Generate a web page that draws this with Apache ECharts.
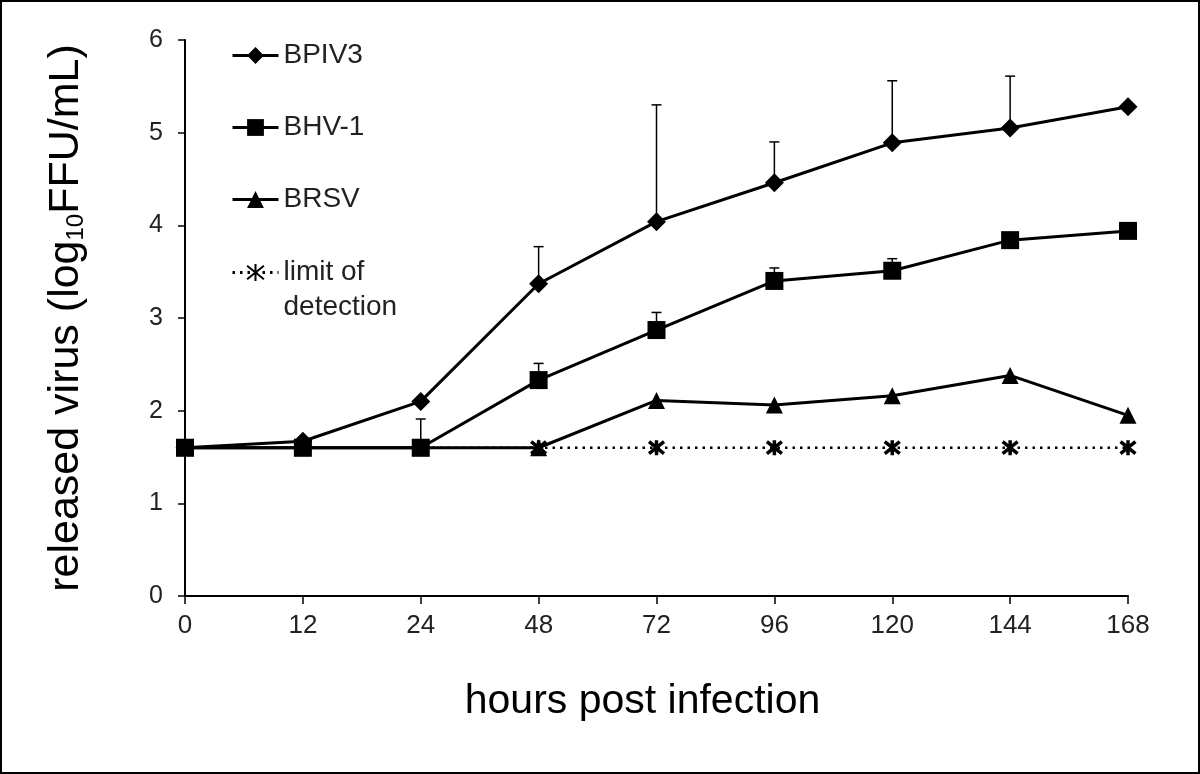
<!DOCTYPE html>
<html>
<head>
<meta charset="utf-8">
<script src="https://cdn.jsdelivr.net/npm/echarts@6/dist/echarts.min.js"></script>
<style>
  html, body { margin: 0; padding: 0; background: #fff; }
  #chart {
    width: 1200px;
    height: 774px;
    box-sizing: border-box;
    border: 2px solid #000;
  }
</style>
</head>
<body>
<div id="chart"></div>
<script>
const hours = ['0', '12', '24', '48', '72', '96', '120', '144', '168']
const yTicks = [0, 1, 2, 3, 4, 5, 6]

const bpiv3 = [1.6, 1.67, 2.1, 3.37, 4.04, 4.46, 4.89, 5.05, 5.28]
const bpiv3Err = [null, null, null, 0.4, 1.26, 0.44, 0.67, 0.56, null]

const bhv1 = [1.6, 1.6, 1.6, 2.33, 2.87, 3.4, 3.51, 3.84, 3.94]
const bhv1Err = [null, null, 0.31, 0.18, 0.19, 0.14, 0.13, null, null]

const brsv = [1.6, 1.6, 1.6, 1.6, 2.11, 2.06, 2.16, 2.38, 1.95]

const detectionLimit = [1.6, 1.6, 1.6, 1.6, 1.6, 1.6, 1.6, 1.6, 1.6]

const FONT = '"Liberation Sans", Arial, sans-serif'
// vertical bar + X, the horizontal arm is the dotted line itself
const asterisk = 'path://M5,0L5,10M1,1L9,9M1,9L9,1'
const LOD = 'limit of\ndetection'

// upper error bars: [index, mean, mean + sd]
const errData = (vals, errs) => vals
  .map((v, i) => (errs[i] == null ? null : [i, v, v + errs[i]]))
  .filter(d => d)

const renderErr = (params, api) => {
  const i = api.value(0)
  const p0 = api.coord([i, api.value(1)])
  const p1 = api.coord([i, api.value(2)])
  const st = { stroke: '#000', lineWidth: 1.5 }
  return {
    type: 'group',
    children: [
      { type: 'line', shape: { x1: p0[0], y1: p0[1], x2: p1[0], y2: p1[1] }, style: st },
      { type: 'line', shape: { x1: p1[0] - 5, y1: p1[1], x2: p1[0] + 5, y2: p1[1] }, style: st }
    ]
  }
}

const chart = echarts.init(document.getElementById('chart'))

const lineSeries = (name, data, symbol, size, z) => ({
  name,
  type: 'line',
  data,
  symbol,
  symbolSize: size,
  showAllSymbol: true,
  z,
  lineStyle: { color: '#000', width: 3 },
  itemStyle: { color: '#000' },
  animation: false
})

const legendBase = {
  orient: 'vertical',
  left: 224,
  itemWidth: 46,
  itemHeight: 21,
  lineStyle: { width: 3 },
  textStyle: { fontFamily: FONT, fontSize: 28, color: '#222', lineHeight: 35 }
}

const option = {
  backgroundColor: '#fff',
  animation: false,
  grid: { left: 183, right: 70, top: 38, bottom: 176 },
  legend: [
    Object.assign({}, legendBase, {
      top: 31,
      itemGap: 37,
      data: ['BPIV3', 'BHV-1', 'BRSV']
    }),
    // first line left blank so the icon sits next to "limit of"
    Object.assign({}, legendBase, {
      top: 213,
      data: [LOD],
      formatter: name => ' \n' + name
    })
  ],
  xAxis: {
    type: 'category',
    data: hours,
    boundaryGap: false,
    name: 'hours post infection',
    nameLocation: 'middle',
    nameGap: 80,
    nameTextStyle: { fontFamily: FONT, fontSize: 41, color: '#000', padding: [5, 28, 0, 0] },
    axisLine: { lineStyle: { color: '#000', width: 2 } },
    axisTick: { show: true, length: 8, alignWithLabel: true, lineStyle: { color: '#000', width: 1.5 } },
    axisLabel: { fontFamily: FONT, fontSize: 26, color: '#222', margin: 17 },
    splitLine: { show: false }
  },
  yAxis: {
    type: 'value',
    min: yTicks[0],
    max: yTicks[yTicks.length - 1],
    interval: 1,
    name: 'released virus (log{sub|10}FFU/mL)',
    nameLocation: 'middle',
    nameRotate: 90,
    nameGap: 97,
    nameTextStyle: {
      fontFamily: FONT,
      fontSize: 43,
      color: '#000',
      rich: {
        sub: { fontFamily: FONT, fontSize: 24, color: '#000', verticalAlign: 'bottom', padding: [18, 0, 0, 0] }
      }
    },
    axisLine: { show: true, lineStyle: { color: '#000', width: 2 } },
    axisTick: { show: true, length: 7, lineStyle: { color: '#000', width: 1.5 } },
    axisLabel: { fontFamily: FONT, fontSize: 25, color: '#222', margin: 22 },
    splitLine: { show: false }
  },
  series: [
    {
      name: LOD,
      type: 'line',
      data: detectionLimit,
      symbol: asterisk,
      symbolSize: 15,
      showAllSymbol: true,
      z: 1,
      lineStyle: { color: '#000', width: 2.5, type: [2.5, 5] },
      itemStyle: { color: '#000', borderColor: '#000', borderWidth: 3.5 },
      animation: false
    },
    lineSeries('BRSV', brsv, 'triangle', 17, 2),
    lineSeries('BHV-1', bhv1, 'rect', 18, 3),
    lineSeries('BPIV3', bpiv3, 'diamond', 19, 4),
    {
      type: 'custom',
      data: errData(bpiv3, bpiv3Err),
      renderItem: renderErr,
      z: 5,
      silent: true,
      animation: false
    },
    {
      type: 'custom',
      data: errData(bhv1, bhv1Err),
      renderItem: renderErr,
      z: 5,
      silent: true,
      animation: false
    }
  ]
}

chart.setOption(option)
</script>
</body>
</html>
